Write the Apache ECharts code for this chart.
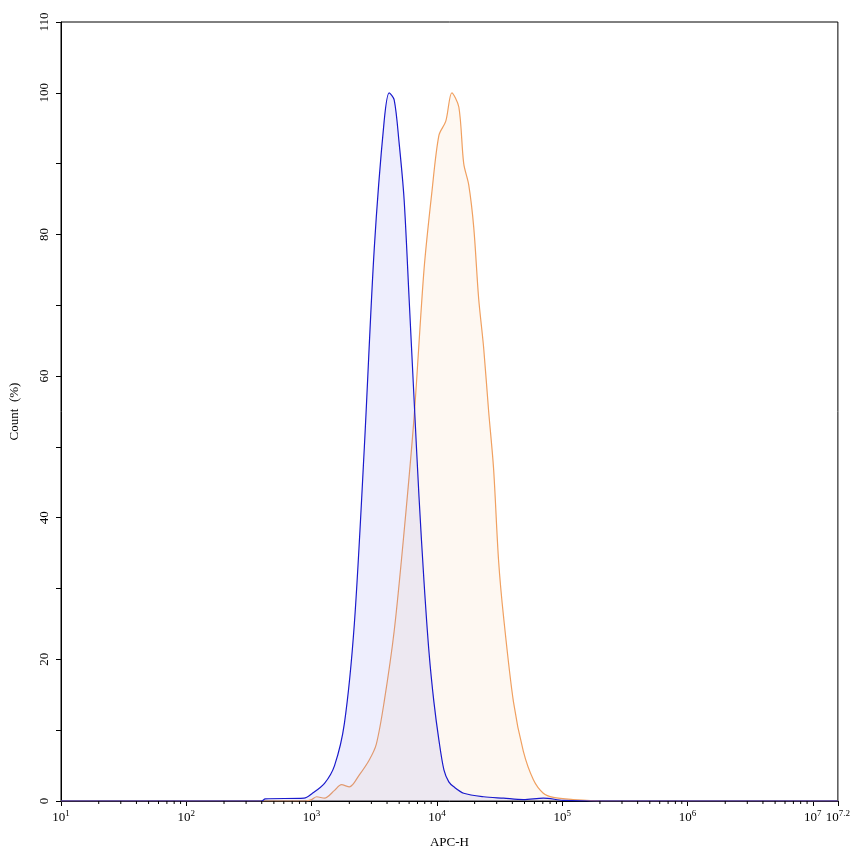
<!DOCTYPE html>
<html><head><meta charset="utf-8">
<script src="https://cdn.jsdelivr.net/npm/echarts@6/dist/echarts.min.js"></script>
<style>html,body{margin:0;padding:0;background:#fff}#c{width:853px;height:856px}</style>
</head><body><div id="c"></div>
<script>
// x values are log10(APC-H)
const blueX = [1.0,2.6,2.63,2.94,3.0,3.103,3.183,3.262,3.341,3.421,3.5,3.579,3.619,3.659,3.698,3.738,3.778,3.817,3.857,3.897,3.937,3.976,4.016,4.056,4.095,4.135,4.214,4.373,4.532,4.69,4.849,5.008,5.325,7.2];
const blueY = [0,0,0.3,0.4,1.0,2.5,5,11,25,50,78,96,100,99,93,85,71,57,43,31,21,14,8.6,4.4,2.7,2.0,1.1,0.6,0.4,0.2,0.4,0.1,0,0];
const orangeX = [1.0,2.95,3.0,3.04,3.103,3.183,3.238,3.302,3.381,3.46,3.516,3.579,3.659,3.738,3.817,3.897,3.96,4.016,4.071,4.119,4.175,4.214,4.254,4.294,4.333,4.373,4.413,4.452,4.492,4.532,4.611,4.69,4.77,4.849,4.929,5.087,5.325,7.2];
const orangeY = [0,0,0.2,0.6,0.4,1.5,2.3,2.0,3.7,5.8,8,14,24,38,54,75,86,94,96,100,98,90,87,81,71,64,55,47,34,26,14,7,3,1.1,0.5,0.2,0,0];
const xTicks = [1,2,3,4,5,6,7,7.2];
const yLabels = [0,20,40,60,80,100,110];

const minor = [];
for (let n = 1; n <= 7; n++) for (let k = 2; k <= 9; k++) { const v = n + Math.log10(k); if (v < 7.2) minor.push([v, 0]); }

const chart = echarts.init(document.getElementById('c'));
const font = 'Liberation Serif';
chart.setOption({
  animation: false,
  grid: {left: 55, right: 15, top: 22, bottom: 55, show: true, borderColor: '#000', borderWidth: 1},
  xAxis: {
    type: 'value', min: 1, max: 7.2, interval: 1,
    name: 'APC-H', nameLocation: 'middle', nameGap: 35,
    nameTextStyle: {fontFamily: font, fontSize: 13, color: '#000'},
    axisLine: {lineStyle: {color: '#000'}}, axisTick: {length: 5, lineStyle: {color: '#000'}},
    splitLine: {show: false},
    axisLabel: {showMaxLabel: true, fontFamily: font, color: '#000', fontSize: 13, margin: 8,
      formatter: v => xTicks.some(t => Math.abs(t - v) < 1e-6) ? '10{s|' + (+v.toFixed(1)) + '}' : '',
      rich: {s: {fontSize: 9, verticalAlign: 'top', padding: [0, 0, 8, 0], fontFamily: font, color: '#000'}}}
  },
  yAxis: {
    type: 'value', min: 0, max: 110, interval: 10,
    name: 'Count  (%)', nameLocation: 'middle', nameGap: 40, nameRotate: 90,
    nameTextStyle: {fontFamily: font, fontSize: 13, color: '#000'},
    axisLine: {show: true, lineStyle: {color: '#000'}}, axisTick: {length: 5, lineStyle: {color: '#000'}},
    splitLine: {show: false},
    axisLabel: {rotate: 90, fontFamily: font, color: '#000', fontSize: 13, margin: 10,
      formatter: v => yLabels.includes(v) ? String(v) : ''}
  },
  series: [
    {type: 'line', data: blueX.map((x, i) => [x, blueY[i]]), showSymbol: false, smooth: 0.3,
     lineStyle: {color: '#1a1acc', width: 1.2}, areaStyle: {color: 'rgba(110,110,240,0.17)'}, z: 3},
    {type: 'line', data: orangeX.map((x, i) => [x, orangeY[i]]), showSymbol: false, smooth: 0.3,
     lineStyle: {color: '#f0a060', width: 1.2}, areaStyle: {color: 'rgba(250,200,150,0.18)'}, z: 2},
    {type: 'custom', data: minor, clip: false, silent: true, z: 5,
     renderItem: (params, api) => {
       const p = api.coord([api.value(0), 0]);
       return {type: 'line', shape: {x1: p[0], y1: p[1], x2: p[0], y2: p[1] + 3}, style: {stroke: '#000', lineWidth: 1}};
     }}
  ]
});
</script></body></html>
